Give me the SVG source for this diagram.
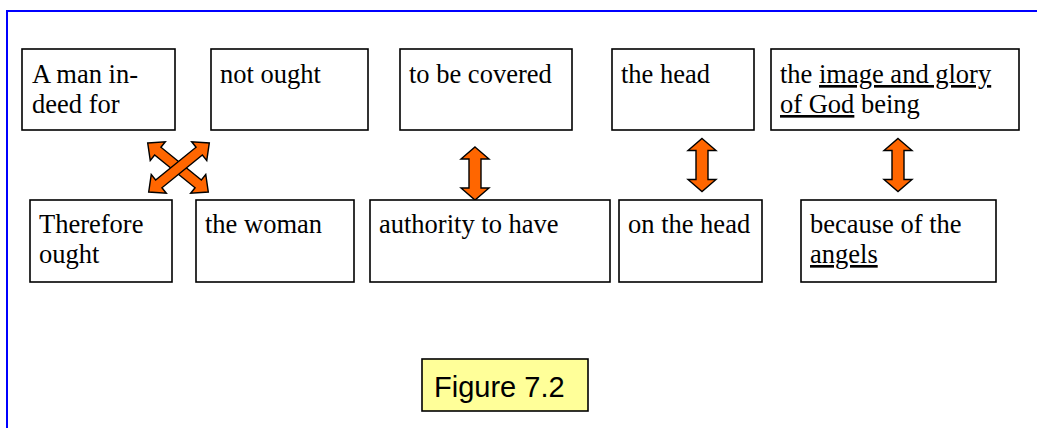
<svg xmlns="http://www.w3.org/2000/svg" width="1037" height="428" viewBox="0 0 1037 428">
<style>
.box{fill:#fff;stroke:#000;stroke-width:1.6}
.t{font-family:"Liberation Serif","Times New Roman",serif;font-size:26.5px;fill:#000}
.u{text-decoration:underline}
.arr{fill:#FF6600;stroke:#000;stroke-width:1.4;stroke-linejoin:miter}
.fig{font-family:"Liberation Sans",Arial,sans-serif;font-size:29px;fill:#000}
</style>
<defs>
<polygon id="va" class="arr" points="0,-26.5 14,-14.5 6,-14.5 6,14.5 14,14.5 0,26.5 -14,14.5 -6,14.5 -6,-14.5 -14,-14.5"/>
<polygon id="da" class="arr" points="-39,0 -26,-12 -26,-5 26,-5 26,-12 39,0 26,12 26,5 -26,5 -26,12"/>
</defs>
<rect width="1037" height="428" fill="#fff"/>
<g id="frame" fill="none" stroke="#0000FF" stroke-width="2">
<polyline points="7,428 7,11 1037,11"/>
</g>
<g id="connectors">
<use href="#da" transform="translate(178,167.5) rotate(39)"/>
<use href="#da" transform="translate(179,167.5) rotate(-39)"/>
<use href="#va" transform="translate(475,173.5)"/>
<use href="#va" transform="translate(702,165)"/>
<use href="#va" transform="translate(898,165)"/>
</g>
<g id="n1"><rect class="box" x="22" y="49" width="153" height="81"/><text class="t" x="32" y="83">A man in-</text><text class="t" x="32" y="113">deed for</text></g>
<g id="n2"><rect class="box" x="211" y="49" width="157" height="81"/><text class="t" x="220" y="83">not ought</text></g>
<g id="n3"><rect class="box" x="400" y="49" width="172" height="81"/><text class="t" x="409" y="83">to be covered</text></g>
<g id="n4"><rect class="box" x="612" y="49" width="142" height="81"/><text class="t" x="621" y="83">the head</text></g>
<g id="n5"><rect class="box" x="771" y="49" width="248" height="81"/><text class="t" x="780" y="83">the <tspan class="u">image and glory</tspan></text><text class="t" x="780" y="113"><tspan class="u">of God</tspan> being</text></g>
<g id="n6"><rect class="box" x="30" y="200" width="142" height="82"/><text class="t" x="39" y="233">Therefore</text><text class="t" x="39" y="263">ought</text></g>
<g id="n7"><rect class="box" x="196" y="200" width="158" height="82"/><text class="t" x="205" y="233">the woman</text></g>
<g id="n8"><rect class="box" x="370" y="200" width="240" height="82"/><text class="t" x="379" y="233">authority to have</text></g>
<g id="n9"><rect class="box" x="619" y="200" width="143" height="82"/><text class="t" x="628" y="233">on the head</text></g>
<g id="n10"><rect class="box" x="801" y="200" width="195" height="82"/><text class="t" x="810" y="233">because of the</text><text class="t" x="810" y="263"><tspan class="u">angels</tspan></text></g>
<g id="caption"><rect x="422" y="359" width="166" height="52" fill="#FFFF99" stroke="#000" stroke-width="1.6"/><text class="fig" x="434" y="397">Figure 7.2</text></g>
</svg>
